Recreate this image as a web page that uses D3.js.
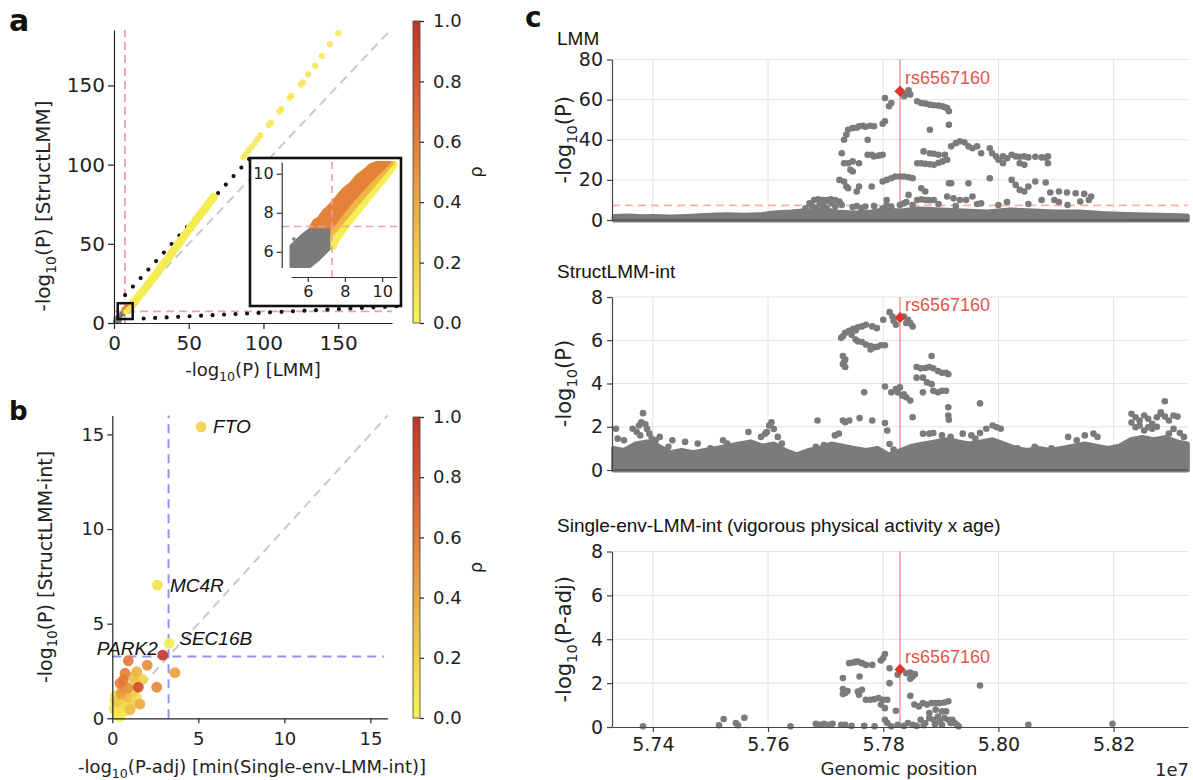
<!DOCTYPE html>
<html>
<head>
<meta charset="utf-8">
<script src="https://cdn.jsdelivr.net/npm/d3@7"></script>
<style>
  body { margin: 0; background: #fff; }
  svg { display: block; font-family: "DejaVu Sans", sans-serif; }
</style>
</head>
<body>
<svg id="fig" width="1193" height="780"></svg>
<script>
// ---------------- data ----------------
// panel a: genome-wide threshold and scatter of -log10 P (LMM vs StructLMM), rho colour
const threshGW = 7.3;
const aTicks = [0, 50, 100, 150];
const rhoTicks = [0, 0.2, 0.4, 0.6, 0.8, 1.0];
// [LMM, StructLMM, rho]
const aBand = [
  [9, 8.5, .3], [10.5, 10, .2], [12, 11.5, .12], [13.5, 13.2, .08], [15, 15, .06], [17, 17.4, .05],
  [19, 19.6, .05], [21, 22.1, .05], [23, 24.5, .05], [25, 27.1, .05], [27, 29.4, .05], [29, 32, .05],
  [31, 34.6, .05], [33, 37.1, .05], [35, 39.4, .05], [37, 42, .05], [39, 44.6, .05], [41, 47.2, .05],
  [43, 49.8, .05], [45, 52.3, .05], [47, 55, .05], [49, 57.4, .05], [51, 60, .05], [53, 62.6, .05],
  [55, 65.1, .05], [57, 67.5, .05], [59, 70.1, .05], [61, 72.4, .05], [63, 75, .05], [65, 77.6, .05],
  [66.5, 79.5, .05]
];
const aDash = [
  [86.5, 104.5], [88, 106.5], [90, 109], [92, 111], [94, 113.5], [96, 116], [98, 118.5],
  [103.5, 125], [105, 126.5], [110.5, 133.5], [112, 135], [117.5, 142], [118.5, 143.5],
  [125, 150.5], [126.5, 152], [130, 157], [134.5, 162.5], [139, 168.5], [144.5, 176], [150, 183]
];
const aCore = [
  [1, 1, -1], [2, 2.5, -1], [3, 3, -1], [4, 4.5, -1], [5, 5.5, -1], [6, 6, -1], [3.5, 1.5, -1], [1.5, 3, -1],
  [7, 9, .55], [8.5, 10, .6], [6.5, 8, .5], [8, 7, .05], [9.5, 8.5, .05], [10, 9, .1]
];
// inset: outlines of the dense clouds, [LMM, StructLMM]
const insetTicks = [6, 8, 10];
const insetGray = [[5.1, 6.31], [5.1, 5.25], [6.11, 5.25], [6.6, 5.62], [7.19, 6.19], [7.19, 7.27], [6.29, 7.27], [5.7, 6.85]];
const insetOrange = [[6.15, 7.27], [6.35, 7.6], [6.6, 7.75], [6.85, 8.1], [7.2, 8.4], [7.5, 8.75], [7.9, 9.2], [8.3, 9.5],
  [8.65, 9.9], [9.0, 10.15], [9.35, 10.45], [9.7, 10.58], [10.4, 10.58], [9.4, 9.65], [8.4, 8.6], [7.3, 7.27]];
const insetAmber = [[7.3, 7.27], [8.4, 8.6], [9.4, 9.65], [10.4, 10.58], [10.6, 10.58], [9.6, 9.45], [8.6, 8.35], [7.45, 7.0], [7.3, 6.9]];
const insetYellow = [[7.3, 6.2], [7.3, 6.9], [7.45, 7.0], [8.6, 8.35], [9.6, 9.45], [10.6, 10.58], [10.75, 10.58], [10.75, 10.4],
  [10.2, 9.7], [9.2, 8.55], [8.2, 7.35], [7.6, 6.55], [7.45, 6.2]];
const insetRho = [0.58, 0.33, 0.03]; // orange, amber, yellow
const insetStray = [[5.25, 6.66]];

// panel b: [min single-env P-adj, StructLMM-int P, rho]
const bTicks = [0, 5, 10, 15];
const threshB = 3.27;
const bPts = [
  [0.93, 3.04, .62], [2.03, 2.81, .52], [3.64, 2.41, .45], [2.58, 1.64, .55], [1.51, 1.64, .85], [0.74, 2.38, .6],
  [0.64, 2.02, .62], [0.45, 1.85, .58], [1.22, 2.2, .3], [1.42, 2.46, .35], [1.22, 1.41, .22], [0.84, 1.14, .3],
  [0.26, 0.88, .25], [0.64, 0.7, .15], [1.13, 0.7, .2], [0.26, 0.44, .1], [0.64, 0.35, .05], [0.35, 0.2, .05],
  [1.03, 0.44, .3], [1.61, 0.75, .4], [0.5, 1.3, .45], [0.9, 1.6, .5], [1.3, 1.9, .25], [0.2, 1.2, .15],
  [0.1, 0.5, .05], [0.45, 0.1, .05], [0.8, 0.9, .1], [1.4, 1.1, .15], [0.6, 1.55, .5], [0.15, 0.95, .08],
  [1.75, 2.05, .2], [0.3, 0.65, .12]
];
const geneNames = ["FTO", "MC4R", "SEC16B", "PARK2"];
const geneX = [5.16, 2.62, 3.31, 2.93];
const geneY = [15.4, 7.04, 3.96, 3.34];
const geneRho = [0.2, 0.12, 0.04, 0.95];

// panel c: genomic position in Mb, values -log10 P
const rsName = "rs6567160";
const rsPos = 57.829135;
const posTicks = [57.4, 57.6, 57.8, 58.0, 58.2];
const lmmTicks = [0, 20, 40, 60, 80];
const intTicks = [0, 2, 4, 6, 8];
// top edge of the dense cloud of null SNPs: [pos, value]
const lmmBase = [
  [57.333, 1.8], [57.36, 2.0], [57.38, 1.6], [57.40, 1.8], [57.43, 1.5], [57.46, 1.8], [57.49, 2.2], [57.51, 2.5],
  [57.53, 2.6], [57.56, 2.4], [57.59, 2.8], [57.61, 3.5], [57.64, 4.0], [57.66, 4.5], [57.68, 4.3], [57.70, 5.0],
  [57.72, 4.0], [57.75, 3.5], [57.78, 4.0], [57.80, 5.0], [57.83, 4.5], [57.86, 5.5], [57.90, 5.0], [57.94, 4.5],
  [57.98, 4.0], [58.02, 5.0], [58.06, 4.5], [58.10, 4.0], [58.14, 4.0], [58.18, 3.2], [58.22, 2.8], [58.26, 2.5],
  [58.30, 2.2], [58.328, 2.0]
];
const lmmPts = [
  [57.665, 5.8], [57.672, 8.3], [57.680, 10], [57.687, 10.3], [57.695, 10], [57.702, 10], [57.709, 10.3], [57.717, 10],
  [57.695, 6.7], [57.702, 5.8], [57.717, 6.7], [57.728, 7.5], [57.676, 7], [57.690, 8.5], [57.710, 8.3], [57.684, 6.2],
  [57.700, 9.2], [57.724, 9.2], [57.754, 7], [57.769, 6.7], [57.784, 7], [57.799, 5.8], [57.806, 7.5], [57.747, 6.5],
  [57.762, 6], [57.724, 20], [57.732, 19.2], [57.736, 16.7], [57.739, 15.8], [57.728, 33.3], [57.732, 40], [57.736, 42.5],
  [57.739, 45], [57.747, 45.8], [57.754, 46], [57.758, 46.7], [57.765, 47], [57.769, 46.5], [57.777, 47], [57.784, 46.7],
  [57.799, 48], [57.803, 49.2], [57.732, 28.3], [57.739, 28.3], [57.747, 29.2], [57.758, 28.3], [57.743, 25],
  [57.747, 24.2], [57.773, 32.5], [57.780, 32.5], [57.784, 31.7], [57.791, 32], [57.795, 32.3], [57.799, 32.5],
  [57.773, 40], [57.754, 14.2], [57.758, 16.7], [57.780, 16.7], [57.799, 19.2], [57.806, 20], [57.814, 20.8],
  [57.821, 21.7], [57.829, 21.7], [57.836, 21.7], [57.844, 21.3], [57.851, 20.8], [57.803, 60.8], [57.810, 56.7],
  [57.814, 58.3], [57.840, 62.5], [57.847, 62.5], [57.836, 61.7], [57.844, 64.7], [57.859, 59.2], [57.866, 58.3],
  [57.873, 58], [57.881, 57.5], [57.888, 57.2], [57.896, 57], [57.903, 56.7], [57.907, 56.2], [57.911, 55.8],
  [57.914, 54.2], [57.914, 47.5], [57.881, 45], [57.859, 28.3], [57.866, 28.3], [57.873, 28], [57.881, 27.8],
  [57.888, 27.5], [57.896, 28.5], [57.903, 29.2], [57.911, 30], [57.870, 34.2], [57.881, 33.3], [57.888, 33],
  [57.896, 32.5], [57.907, 32.5], [57.918, 36.7], [57.926, 38.3], [57.933, 39.2], [57.941, 38.7], [57.948, 36.7],
  [57.955, 35.8], [57.963, 36.7], [57.970, 33.3], [57.985, 35.8], [57.989, 33.3], [57.996, 31.7], [58.008, 31.7],
  [58.015, 30.8], [58.023, 32.5], [58.030, 31.7], [58.037, 31.5], [58.045, 31.7], [58.052, 31.2], [58.064, 31.5],
  [58.075, 31.2], [58.082, 31], [58.086, 31.7], [58.086, 28.3], [58.000, 30], [58.008, 28.3], [58.037, 28.3],
  [58.045, 27.5], [57.918, 18.3], [57.948, 18.3], [57.985, 20.8], [58.023, 20], [58.030, 17.5], [58.037, 15],
  [58.045, 14.2], [58.052, 16.7], [58.064, 19.2], [58.082, 18.7], [58.090, 13.7], [58.105, 14.2], [58.119, 13.7],
  [58.134, 13.3], [58.149, 13], [58.161, 11.7], [58.075, 10], [58.097, 10], [58.142, 9.2], [58.157, 10],
  [57.955, 11.7], [57.970, 8.3], [57.944, 10], [57.922, 10.8], [57.933, 10], [57.859, 10], [57.866, 10.3],
  [57.873, 10], [57.881, 9.8], [57.888, 10], [57.866, 15.8], [57.873, 14.2], [57.877, 10], [57.914, 18.3],
  [57.911, 11.7], [57.806, 10], [57.814, 6.7], [57.829, 7.5], [57.836, 8.3], [57.844, 12.5], [57.851, 7.5],
  [57.840, 9], [57.896, 8], [57.926, 7], [57.963, 8], [58.000, 7.5], [58.015, 9], [58.052, 8], [58.105, 9], [58.120, 7.5]
];
const lmmLead = 64.2;

const structBase = [
  [57.332, 1.0], [57.35, 0.9], [57.37, 1.2], [57.39, 1.3], [57.41, 1.1], [57.43, 0.8], [57.45, 0.9], [57.47, 0.8],
  [57.49, 0.9], [57.51, 1.0], [57.53, 1.1], [57.55, 1.2], [57.57, 1.3], [57.59, 1.1], [57.61, 1.2], [57.63, 0.9],
  [57.65, 0.7], [57.67, 0.9], [57.69, 1.0], [57.71, 1.2], [57.73, 1.1], [57.75, 1.0], [57.77, 0.9], [57.79, 1.0],
  [57.81, 0.7], [57.83, 0.9], [57.85, 1.1], [57.87, 1.2], [57.89, 1.3], [57.91, 1.4], [57.93, 1.3], [57.95, 1.2],
  [57.97, 1.3], [57.99, 1.4], [58.01, 1.2], [58.03, 1.0], [58.05, 0.9], [58.07, 1.0], [58.09, 0.9], [58.11, 1.0],
  [58.13, 1.1], [58.15, 1.2], [58.17, 1.1], [58.19, 1.0], [58.21, 1.1], [58.23, 1.4], [58.25, 1.5], [58.27, 1.4],
  [58.29, 1.5], [58.31, 1.3], [58.328, 1.2]
];
const structPts = [
  [57.727, 6.11], [57.730, 6.18], [57.734, 6.34], [57.741, 6.44], [57.748, 6.53], [57.756, 6.6], [57.763, 6.64],
  [57.770, 6.72], [57.781, 6.64], [57.789, 6.56], [57.745, 6.25], [57.752, 6.45], [57.730, 5.27], [57.734, 5.11],
  [57.730, 4.89], [57.734, 4.76], [57.732, 5.0], [57.752, 6.03], [57.756, 5.95], [57.763, 5.92], [57.770, 5.8],
  [57.778, 5.73], [57.785, 5.68], [57.796, 5.77], [57.803, 5.77], [57.778, 5.57], [57.790, 5.7], [57.800, 6.95],
  [57.811, 7.3], [57.816, 7.1], [57.822, 6.72], [57.836, 7.1], [57.843, 6.95], [57.847, 6.79], [57.851, 6.64],
  [57.818, 6.9], [57.840, 6.8], [57.767, 3.59], [57.803, 3.86], [57.822, 3.74], [57.829, 3.82], [57.825, 3.59],
  [57.833, 3.44], [57.840, 3.36], [57.847, 3.21], [57.814, 3.59], [57.836, 3.5], [57.858, 4.76], [57.865, 4.7],
  [57.873, 4.72], [57.880, 4.76], [57.884, 5.27], [57.887, 4.7], [57.895, 4.58], [57.902, 4.5], [57.909, 4.5],
  [57.913, 4.43], [57.858, 4.27], [57.869, 4.27], [57.876, 4.05], [57.884, 3.97], [57.887, 3.66], [57.895, 3.59],
  [57.902, 3.66], [57.909, 3.66], [57.913, 2.9], [57.913, 2.52], [57.914, 2.32], [57.869, 3.59], [57.968, 3.08],
  [57.851, 2.44], [57.730, 2.29], [57.734, 2.21], [57.741, 2.29], [57.759, 2.4], [57.781, 2.29], [57.686, 2.29],
  [57.803, 2.17], [57.807, 1.83], [58.231, 2.6], [58.238, 2.44], [58.245, 2.29], [58.253, 2.52], [58.260, 2.37],
  [58.267, 2.14], [58.275, 2.44], [58.282, 2.6], [58.289, 2.47], [58.296, 2.29], [58.304, 2.52], [58.311, 2.47],
  [58.289, 3.18], [58.282, 2.67], [58.245, 2.06], [58.238, 1.98], [58.253, 1.83], [58.260, 1.98], [58.267, 1.91],
  [58.296, 1.68], [58.315, 1.71], [58.322, 1.53], [58.231, 2.2], [58.275, 2.0], [58.304, 1.9], [57.383, 2.63],
  [57.380, 2.21], [57.376, 2.06], [57.387, 2.11], [57.365, 1.91], [57.372, 1.76], [57.394, 1.68], [57.398, 1.45],
  [57.405, 1.37], [57.412, 1.53], [57.336, 1.91], [57.339, 1.45], [57.350, 1.37], [57.390, 1.9], [57.378, 1.6],
  [57.606, 2.21], [57.602, 2.06], [57.598, 1.76], [57.595, 1.68], [57.617, 1.53], [57.588, 1.53], [57.566, 1.76],
  [57.624, 1.22], [57.610, 1.9], [57.683, 1.07], [57.697, 1.15], [57.716, 1.6], [57.723, 1.68], [57.990, 2.06],
  [57.997, 1.98], [58.004, 1.91], [57.979, 1.91], [57.968, 1.71], [57.953, 1.6], [57.960, 1.45], [57.938, 1.68],
  [57.917, 1.53], [57.924, 1.3], [57.869, 1.68], [57.880, 1.68], [57.887, 1.71], [57.902, 1.6], [58.165, 1.68],
  [58.150, 1.6], [58.172, 1.53], [58.121, 1.53], [58.136, 1.37], [57.522, 1.37], [57.529, 1.22], [57.478, 1.22],
  [57.456, 1.3], [57.434, 1.37], [57.427, 1.07], [57.500, 1.0], [58.033, 1.0], [58.063, 1.07], [58.092, 1.0],
  [57.811, 1.2], [57.818, 0.95]
];
const structLead = 7.05;

const singlePts = [
  [57.383, 0.03], [57.515, 0.08], [57.523, 0.36], [57.544, 0.18], [57.548, 0.08], [57.559, 0.42], [57.639, 0.03],
  [57.683, 0.15], [57.690, 0.1], [57.697, 0.15], [57.705, 0.1], [57.712, 0.15], [57.727, 0.1], [57.734, 0.1],
  [57.745, 0.05], [57.767, 0.05], [57.785, 0.03], [57.803, 0.33], [57.807, 0.18], [57.822, 0.74], [57.814, 0.03],
  [57.825, 0.1], [57.836, 0.05], [57.843, 0.18], [57.851, 0.1], [57.865, 0.33], [57.873, 0.18], [57.880, 0.41],
  [57.887, 0.33], [57.895, 0.48], [57.898, 0.25], [57.906, 0.41], [57.909, 0.71], [57.913, 0.33], [57.917, 0.18],
  [57.920, 0.33], [57.924, 0.18], [57.928, 0.1], [57.931, 0.03], [57.858, 0.05], [57.870, 0.08], [57.890, 0.12],
  [57.902, 0.1], [57.854, 1.02], [57.862, 0.94], [57.869, 1.09], [57.876, 1.02], [57.884, 1.09], [57.891, 1.09],
  [57.898, 1.09], [57.906, 1.12], [57.913, 1.17], [57.891, 0.79], [57.902, 0.71], [57.880, 0.64], [57.770, 1.24],
  [57.778, 1.24], [57.785, 1.27], [57.792, 1.32], [57.800, 1.24], [57.796, 1.02], [57.803, 0.86], [57.807, 1.24],
  [57.730, 1.73], [57.734, 1.55], [57.738, 1.64], [57.756, 1.62], [57.763, 1.7], [57.758, 1.47], [57.730, 1.5],
  [57.730, 2.23], [57.759, 2.3], [57.741, 2.91], [57.748, 2.94], [57.752, 2.97], [57.756, 2.98], [57.763, 2.91],
  [57.770, 2.83], [57.781, 2.83], [57.796, 3.03], [57.803, 3.33], [57.800, 3.14], [57.811, 2.68], [57.825, 2.38],
  [57.840, 2.45], [57.847, 2.48], [57.851, 2.3], [57.855, 2.41], [57.847, 2.2], [57.811, 2.0], [57.847, 1.42],
  [57.968, 1.89], [58.052, 0.1], [58.198, 0.15]
];
const singleLead = 2.62;

// ---------------- drawing ----------------
const svg = d3.select("#fig");
const ink = "#222";
const grayPt = "#7b7b7b";
const rhoColor = d3.scaleLinear()
  .domain([0, 0.2, 0.4, 0.6, 0.8, 1])
  .range(["#f6f454", "#f1d24a", "#eba843", "#e47e38", "#d6552d", "#c2342a"]);

function styleAxis(g, size, col) {
  g.attr("font-size", size).attr("font-family", "DejaVu Sans");
  g.select(".domain").attr("stroke", col || ink).attr("stroke-width", 1.2);
  g.selectAll(".tick line").attr("stroke", col || ink).attr("stroke-width", 1.2);
  g.selectAll(".tick text").attr("fill", ink);
}

// "-log10(...)" label with a real subscript
function logLabel(g, x, y, rot, rest, size) {
  const t = g.append("text")
    .attr("transform", "translate(" + x + "," + y + ") rotate(" + rot + ")")
    .attr("text-anchor", "middle").attr("font-size", size).attr("fill", ink);
  t.append("tspan").text("-log");
  t.append("tspan").text("10").attr("font-size", size * 0.7).attr("dy", size * 0.28);
  t.append("tspan").text(rest).attr("dy", -size * 0.28);
}

function panelLetter(ch, x, y, size) {
  svg.append("text").attr("x", x).attr("y", y).attr("font-size", size)
    .attr("font-weight", "bold").attr("fill", "#111").text(ch);
}

// shared colour bar gradient
const grad = svg.append("defs").append("linearGradient").attr("id", "rhoGrad")
  .attr("x1", 0).attr("y1", 1).attr("x2", 0).attr("y2", 0);
d3.range(0, 1.0001, 0.1).forEach(t => grad.append("stop").attr("offset", t).attr("stop-color", rhoColor(t)));

function colorbar(top, bottom) {
  const cb = d3.scaleLinear().domain([0, 1]).range([bottom, top]);
  const g = svg.append("g");
  g.append("rect").attr("x", 413).attr("y", top).attr("width", 7).attr("height", bottom - top)
    .attr("fill", "url(#rhoGrad)").attr("stroke", "#444").attr("stroke-width", 0.8);
  const ax = g.append("g").attr("transform", "translate(420,0)")
    .call(d3.axisRight(cb).tickValues(rhoTicks).tickFormat(d3.format(".1f")).tickSize(4).tickPadding(9).tickSizeOuter(0));
  styleAxis(ax, 18);
  ax.select(".domain").remove();
  g.append("text").attr("transform", "translate(482," + ((top + bottom) / 2) + ") rotate(-90)")
    .attr("text-anchor", "middle").attr("font-size", 18).attr("fill", ink).text("ρ");
}

// ===== panel a =====
const aX = d3.scaleLinear().domain([0, 186]).range([114, 392]);
const aY = d3.scaleLinear().domain([0, 185]).range([323, 30]);
const ga = svg.append("g");
ga.append("line").attr("x1", aX(0)).attr("y1", aY(0)).attr("x2", aX(184)).attr("y2", aY(184))
  .attr("stroke", "#c9c9c9").attr("stroke-width", 2).attr("stroke-dasharray", "9,6");
ga.append("line").attr("x1", aX(threshGW)).attr("x2", aX(threshGW)).attr("y1", aY(0)).attr("y2", aY(185))
  .attr("stroke", "#f3a0ab").attr("stroke-width", 1.8).attr("stroke-dasharray", "8,5");
ga.append("line").attr("x1", aX(0)).attr("x2", aX(186)).attr("y1", aY(threshGW)).attr("y2", aY(threshGW))
  .attr("stroke", "#f3a0ab").attr("stroke-width", 1.8).attr("stroke-dasharray", "8,5");

// zoom box + connectors to the inset
const zoomLo = 2.5, zoomHi = 12.5;
const insetBox = { x: 250, y: 158, w: 151, h: 148 };
[[aX(zoomLo), aY(zoomHi), insetBox.x, insetBox.y],
 [aX(zoomHi), aY(zoomLo), insetBox.x + insetBox.w, insetBox.y + insetBox.h]].forEach(c => {
  ga.append("line").attr("x1", c[0]).attr("y1", c[1]).attr("x2", c[2]).attr("y2", c[3])
    .attr("stroke", "#111").attr("stroke-width", 4.2).attr("stroke-linecap", "round")
    .attr("stroke-dasharray", "0,11.5").attr("stroke-dashoffset", -11);
});

ga.selectAll(".dash").data(aDash).join("circle")
  .attr("cx", d => aX(d[0])).attr("cy", d => aY(d[1])).attr("r", 3.1)
  .attr("fill", rhoColor(0.08)).attr("opacity", 0.85);
ga.selectAll(".band").data(aBand).join("circle")
  .attr("cx", d => aX(d[0])).attr("cy", d => aY(d[1])).attr("r", 4.4)
  .attr("fill", d => rhoColor(d[2]));
ga.selectAll(".core").data(aCore).join("circle")
  .attr("cx", d => aX(d[0])).attr("cy", d => aY(d[1])).attr("r", 2.6)
  .attr("fill", d => d[2] < 0 ? grayPt : rhoColor(d[2]));
ga.append("rect").attr("x", aX(zoomLo)).attr("y", aY(zoomHi))
  .attr("width", aX(zoomHi) - aX(zoomLo)).attr("height", aY(zoomLo) - aY(zoomHi))
  .attr("fill", "none").attr("stroke", "#111").attr("stroke-width", 2.5);

const axA = ga.append("g").attr("transform", "translate(0,323)")
  .call(d3.axisBottom(aX).tickValues(aTicks).tickSize(6).tickPadding(7).tickSizeOuter(0));
styleAxis(axA, 20);
const ayA = ga.append("g").attr("transform", "translate(114,0)")
  .call(d3.axisLeft(aY).tickValues(aTicks).tickSize(6).tickPadding(3).tickSizeOuter(0));
styleAxis(ayA, 20);
logLabel(ga, 253, 376, 0, "(P) [LMM]", 18);
logLabel(ga, 50, 206, -90, "(P) [StructLMM]", 20);

// inset
const gi = svg.append("g");
gi.append("rect").attr("x", insetBox.x).attr("y", insetBox.y).attr("width", insetBox.w).attr("height", insetBox.h)
  .attr("fill", "#fff").attr("stroke", "#111").attr("stroke-width", 2.6);
const ix = d3.scaleLinear().domain([5.1, 10.8]).range([291, 397]);
const iy = d3.scaleLinear().domain([5.2, 10.6]).range([267.5, 162]);
const region = d3.line().x(d => ix(d[0])).y(d => iy(d[1]));
[[insetGray, grayPt], [insetYellow, rhoColor(insetRho[2])], [insetAmber, rhoColor(insetRho[1])],
 [insetOrange, rhoColor(insetRho[0])]].forEach(r => {
  gi.append("path").attr("d", region(r[0]) + "Z").attr("fill", r[1])
    .attr("stroke", r[1]).attr("stroke-width", 3).attr("stroke-linejoin", "round");
});
gi.selectAll(".stray").data(insetStray).join("circle")
  .attr("cx", d => ix(d[0])).attr("cy", d => iy(d[1])).attr("r", 1.8).attr("fill", grayPt);
gi.append("line").attr("x1", ix(threshGW)).attr("x2", ix(threshGW)).attr("y1", 162).attr("y2", 277)
  .attr("stroke", "#f29aa4").attr("stroke-width", 1.5).attr("stroke-dasharray", "7,5");
gi.append("line").attr("x1", 282).attr("x2", 397).attr("y1", iy(threshGW)).attr("y2", iy(threshGW))
  .attr("stroke", "#f29aa4").attr("stroke-width", 1.5).attr("stroke-dasharray", "7,5");
const ixA = gi.append("g").attr("transform", "translate(0,277)")
  .call(d3.axisBottom(ix).tickValues(insetTicks).tickFormat(d3.format("d")).tickSize(5).tickPadding(4).tickSizeOuter(0));
styleAxis(ixA, 16, "#333");
const iyA = gi.append("g").attr("transform", "translate(281.7,0)")
  .call(d3.axisLeft(iy).tickValues(insetTicks).tickFormat(d3.format("d")).tickSize(5).tickPadding(3).tickSizeOuter(0));
styleAxis(iyA, 16, "#333");

colorbar(21, 323);
panelLetter("a", 9, 31, 30);

// ===== panel b =====
const bX = d3.scaleLinear().domain([0, 16]).range([112.3, 387.6]);
const bY = d3.scaleLinear().domain([0, 16]).range([718.3, 415.5]);
const gb = svg.append("g");
gb.append("line").attr("x1", bX(0)).attr("y1", bY(0)).attr("x2", bX(16)).attr("y2", bY(16))
  .attr("stroke", "#c9c9c9").attr("stroke-width", 2).attr("stroke-dasharray", "9,6");
gb.append("line").attr("x1", bX(threshB)).attr("x2", bX(threshB)).attr("y1", bY(0)).attr("y2", bY(16))
  .attr("stroke", "#9194ee").attr("stroke-width", 2).attr("stroke-dasharray", "9,6");
gb.append("line").attr("x1", bX(0)).attr("x2", bX(15.8)).attr("y1", bY(threshB)).attr("y2", bY(threshB))
  .attr("stroke", "#9194ee").attr("stroke-width", 2).attr("stroke-dasharray", "9,6");

const bAll = bPts.concat(geneNames.map((g, i) => [geneX[i], geneY[i], geneRho[i]]))
  .sort((p, q) => p[2] - q[2]);
gb.selectAll(".pt").data(bAll).join("circle")
  .attr("cx", d => bX(d[0])).attr("cy", d => bY(d[1])).attr("r", 5.4)
  .attr("fill", d => rhoColor(d[2])).attr("opacity", 0.92);

const geneOffset = [[12, 6, "start"], [12.5, 6.5, "start"], [10, 2, "start"], [-5, 0, "end"]];
geneNames.forEach((name, i) => {
  gb.append("text").attr("x", bX(geneX[i]) + geneOffset[i][0]).attr("y", bY(geneY[i]) + geneOffset[i][1])
    .attr("text-anchor", geneOffset[i][2]).attr("font-family", "Liberation Sans, Arial, sans-serif")
    .attr("font-style", "italic").attr("font-size", 19).attr("fill", "#111").text(name);
});

const axB = gb.append("g").attr("transform", "translate(0,718.3)")
  .call(d3.axisBottom(bX).tickValues(bTicks).tickSize(5).tickPadding(9).tickSizeOuter(0));
styleAxis(axB, 18);
const ayB = gb.append("g").attr("transform", "translate(112.3,0)")
  .call(d3.axisLeft(bY).tickValues(bTicks).tickSize(5).tickPadding(3).tickSizeOuter(0));
styleAxis(ayB, 18);
logLabel(gb, 252, 773, 0, "(P-adj) [min(Single-env-LMM-int)]", 18);
logLabel(gb, 52, 567, -90, "(P) [StructLMM-int]", 19);

colorbar(417, 718);
panelLetter("b", 9, 420, 26);

// ===== panel c =====
const xc = d3.scaleLinear().domain([rsPos - 0.5, rsPos + 0.5]).range([612, 1188]);
const cFont = "Liberation Sans, Arial, sans-serif";

function manhattan(o) {
  const y = d3.scaleLinear().domain([0, o.ymax]).range([o.y0, o.y1]);
  const g = svg.append("g");
  g.selectAll(".vg").data(posTicks).join("line")
    .attr("x1", d => xc(d)).attr("x2", d => xc(d)).attr("y1", o.y0).attr("y2", o.y1)
    .attr("stroke", "#e2e2e2").attr("stroke-width", 1);
  g.selectAll(".hg").data(o.ticks.filter(d => d > 0)).join("line")
    .attr("x1", 612).attr("x2", 1188).attr("y1", d => y(d)).attr("y2", d => y(d))
    .attr("stroke", "#e2e2e2").attr("stroke-width", 1);
  if (o.thresh) {
    g.append("line").attr("x1", 612).attr("x2", 1188).attr("y1", y(o.thresh)).attr("y2", y(o.thresh))
      .attr("stroke", "#f3b3a8").attr("stroke-width", 1.8).attr("stroke-dasharray", "8,5");
  }
  g.append("line").attr("x1", xc(rsPos)).attr("x2", xc(rsPos)).attr("y1", o.y0).attr("y2", o.y1)
    .attr("stroke", "#e8756a").attr("stroke-width", 1.1);
  if (o.base) {
    const area = d3.area().x(d => xc(d[0])).y0(y(0)).y1(d => y(d[1]));
    g.append("path").attr("d", area(o.base)).attr("fill", grayPt)
      .attr("stroke", grayPt).attr("stroke-width", 5).attr("stroke-linejoin", "round");
  }
  g.selectAll(".pt").data(o.pts).join("circle")
    .attr("cx", d => xc(d[0])).attr("cy", d => y(d[1])).attr("r", 3.3).attr("fill", grayPt);
  g.append("path").attr("d", d3.symbol(d3.symbolSquare, 64)())
    .attr("transform", "translate(" + xc(rsPos) + "," + y(o.lead) + ") rotate(45)").attr("fill", "#e0352a");
  g.append("text").attr("x", xc(rsPos) + 5).attr("y", y(o.lead) - 7)
    .attr("font-family", cFont).attr("font-size", 18).attr("fill", "#e0574a").text(rsName);

  const yA = g.append("g").attr("transform", "translate(612,0)")
    .call(d3.axisLeft(y).tickValues(o.ticks).tickSize(5).tickPadding(4).tickSizeOuter(0));
  styleAxis(yA, 19, "#444");
  if (o.xlabels) {
    const xA = g.append("g").attr("transform", "translate(0," + o.y0 + ")")
      .call(d3.axisBottom(xc).tickValues(posTicks).tickFormat(d => (d / 10).toFixed(2))
        .tickSize(5).tickPadding(6).tickSizeOuter(0));
    styleAxis(xA, 19, "#444");
  } else {
    g.append("line").attr("x1", 612).attr("x2", 1188).attr("y1", o.y0).attr("y2", o.y0)
      .attr("stroke", "#444").attr("stroke-width", 1.2);
  }
  g.append("text").attr("x", 557).attr("y", o.titleY).attr("font-family", cFont)
    .attr("font-size", 19).attr("fill", "#111").text(o.title);
  logLabel(g, 571, (o.y0 + o.y1) / 2, -90, o.ylab, 21);
}

manhattan({ title: "LMM", titleY: 45, ymax: 80, y0: 220, y1: 59.5, ticks: lmmTicks,
  base: lmmBase, pts: lmmPts, lead: lmmLead, thresh: threshGW, ylab: "(P)" });
manhattan({ title: "StructLMM-int", titleY: 278, ymax: 8, y0: 470, y1: 297, ticks: intTicks,
  base: structBase, pts: structPts, lead: structLead, ylab: "(P)" });
manhattan({ title: "Single-env-LMM-int (vigorous physical activity x age)", titleY: 532, ymax: 8,
  y0: 727, y1: 551.5, ticks: intTicks, pts: singlePts, lead: singleLead, xlabels: true, ylab: "(P-adj)" });

svg.append("text").attr("x", 899).attr("y", 775).attr("text-anchor", "middle")
  .attr("font-size", 18).attr("fill", ink).text("Genomic position");
svg.append("text").attr("x", 1189).attr("y", 776).attr("text-anchor", "end")
  .attr("font-size", 18).attr("fill", ink).text("1e7");
panelLetter("c", 525, 27, 28);
</script>
</body>
</html>
